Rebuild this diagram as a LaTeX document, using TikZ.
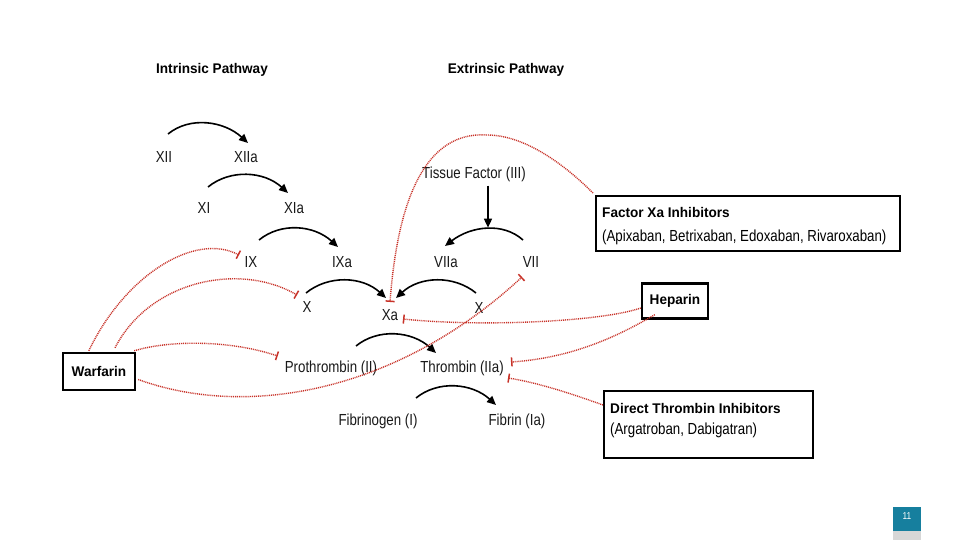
\documentclass[tikz,border=0pt]{standalone}
\usepackage{fontspec}
\setmainfont{Liberation Sans}[FakeStretch=0.83]
\newfontfamily\bfam{Liberation Sans}[FakeStretch=0.97]
\usetikzlibrary{arrows.meta,calc}
\definecolor{inhred}{RGB}{200,50,40}
\definecolor{tealbox}{RGB}{22,127,158}
\definecolor{stripgray}{RGB}{215,215,215}
\begin{document}
\begin{tikzpicture}[x=1pt,y=-1pt,
  lbl/.style={font=\fontsize{16}{18}\selectfont, inner sep=0pt, text=black!90},
  ttl/.style={font=\bfam\bfseries\fontsize{14}{16}\selectfont, inner sep=0pt},
  blk/.style={line width=1.6pt, -{Triangle[length=9pt,width=8pt]}},
  inh/.style={draw=inhred, line width=1.4pt, dash pattern=on 1pt off 0.9pt, -{Bar[width=9pt,line width=1.5pt]}},
  box/.style={draw=black, line width=2.4pt, inner sep=0pt},
  boxtxt/.style={inner sep=0pt, align=left, anchor=north west},
]
\useasboundingbox (0,0) rectangle (960,540);
\fill[white] (0,0) rectangle (960,540);

% titles
\node[ttl] (tin) at (212,70) {Intrinsic Pathway};
\node[ttl] (tex) at (506,70) {Extrinsic Pathway};

% factors
\node[lbl] (XII) at (164,157) {XII};
\node[lbl] (XIIa) at (246,157) {XIIa};
\node[lbl] (XI) at (204,208) {XI};
\node[lbl] (XIa) at (294,208) {XIa};
\node[lbl] (IX) at (251,262) {IX};
\node[lbl] (IXa) at (342,262) {IXa};
\node[lbl] (TF) at (474,174) {Tissue Factor (III)};
\node[lbl] (VIIa) at (446,262) {VIIa};
\node[lbl] (VII) at (531,262) {VII};
\node[lbl] (Xl) at (307,307) {X};
\node[lbl] (Xa) at (390,315) {Xa};
\node[lbl] (Xr) at (479,308) {X};
\node[lbl] (PT) at (331,368) {Prothrombin (II)};
\node[lbl] (TH) at (462,368) {Thrombin (IIa)};
\node[lbl] (FG) at (378,421) {Fibrinogen (I)};
\node[lbl] (FB) at (517,421) {Fibrin (Ia)};

% black activation arcs
\draw[blk] ($(XII)+(4,-23)$) .. controls +(22,-18) and +(-24,-22) .. ($(XIIa)+(2,-14)$);
\draw[blk] ($(XI)+(4,-21)$) .. controls +(22,-18) and +(-24,-22) .. ($(XIa)+(-6,-15)$);
\draw[blk] ($(IX)+(8,-22)$) .. controls +(22,-18) and +(-24,-22) .. ($(IXa)+(-4,-15)$);
\draw[blk] ($(Xl)+(-1,-14)$) .. controls +(22,-18) and +(-24,-22) .. ($(Xa)+(-4,-17)$);
\draw[blk] ($(Xr)+(-3,-15)$) .. controls +(-22,-18) and +(24,-22) .. ($(Xa)+(6,-17)$);
\draw[blk] ($(VII)+(-8,-22)$) .. controls +(-20,-18) and +(26,-20) .. ($(VIIa)+(-1,-16)$);
\draw[blk] ($(PT)+(25,-22)$) .. controls +(22,-18) and +(-24,-22) .. ($(TH)+(-26,-15)$);
\draw[blk] ($(FG)+(38,-23)$) .. controls +(22,-18) and +(-24,-22) .. ($(FB)+(-21,-16)$);
\draw[line width=1.6pt, -{Triangle[length=9pt,width=8pt]}] ($(TF.south)+(14,4)$) -- ($(TF.south)+(14,46)$);

% boxes
\node[box, minimum width=72, minimum height=37, font=\bfam\bfseries\fontsize{14}{16}\selectfont] (warf) at (99,371.5) {Warfarin};
\node[box, minimum width=66, minimum height=35, font=\bfam\bfseries\fontsize{14}{16}\selectfont] (hep) at (675,301) {Heparin};
\node[box, anchor=north west, minimum width=304, minimum height=55] (fxa) at (595,195) {};
\node[boxtxt, font=\fontsize{16}{24}\selectfont] (fxat) at ($(fxa.north west)+(7,12)$)
  {{\bfam\bfseries\fontsize{14}{16}\selectfont Factor Xa Inhibitors}\\(Apixaban, Betrixaban, Edoxaban, Rivaroxaban)};
\node[box, anchor=north west, minimum width=209, minimum height=67] (dti) at (603,390) {};
\node[boxtxt, font=\fontsize{16}{21}\selectfont] (dtit) at ($(dti.north west)+(7,13)$)
  {{\bfam\bfseries\fontsize{14}{16}\selectfont Direct Thrombin Inhibitors}\\(Argatroban, Dabigatran)};

% inhibition connectors
\draw[inh] ($(warf.north west)+(27,-1)$) .. controls (125,275) and (195,232) .. ($(IX)+(-12,-7)$);
\draw[inh] ($(warf.north)+(16,-4)$) .. controls (150,280) and (240,262) .. ($(Xl)+(-10,-12)$);
\draw[inh] ($(warf.north east)+(-2,-1)$) .. controls (170,340) and (230,340) .. ($(PT.west)+(-7,-12)$);
\draw[inh] ($(warf.east)+(2,8)$) .. controls (250,420) and (400,390) .. ($(VII)+(-9,15)$);
\draw[inh] ($(fxa.north west)+(-2,-2)$) .. controls (565,165) and (525,135) .. (487,135)
   .. controls (440,132) and (400,170) .. ($(Xa)+(0,-13)$);
\draw[inh] ($(hep.west)+(0,7)$) .. controls (600,322) and (480,327) .. ($(Xa)+(13,4)$);
\draw[inh] ($(hep.south west)+(14,-5)$) .. controls (615,338) and (570,358) .. ($(TH)+(49,-6)$);
\draw[inh] ($(dti.north west)+(0,15)$) .. controls (575,395) and (540,383) .. ($(TH)+(46,10)$);

% page number
\fill[tealbox] (893,507) rectangle (921,531);
\fill[stripgray] (893,531) rectangle (921,540);
\node[font=\fontsize{10}{11}\selectfont, text=white, inner sep=0pt] (pg) at (907,516) {11};
\end{tikzpicture}
\end{document}
